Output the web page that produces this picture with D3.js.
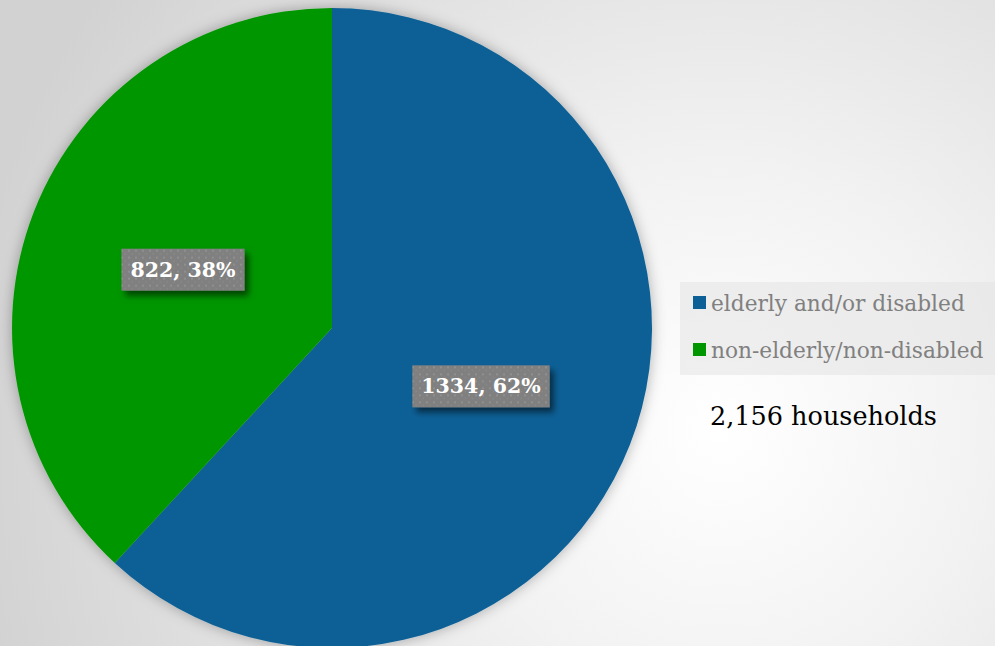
<!DOCTYPE html>
<html>
<head>
<meta charset="utf-8">
<script src="https://cdn.jsdelivr.net/npm/d3@7"></script>
<style>
  html, body { margin: 0; padding: 0; overflow: hidden; }
  svg { display: block; }
</style>
</head>
<body>
<svg id="chart" width="995" height="646"></svg>
<script>
// Households by category
const categories = ["elderly and/or disabled", "non-elderly/non-disabled"];
const values = [1334, 822];
const colors = ["#0c6096", "#009600"];
const totalLabel = "2,156 households";

const W = 995, H = 646;
const svg = d3.select("#chart");
const serif = "'Palatino Linotype', 'Book Antiqua', Palatino, 'URW Palladio L', 'P052', 'DejaVu Serif', serif";

const defs = svg.append("defs");

// soft grey backdrop, brightest to the right of the pie
const bg = defs.append("radialGradient").attr("id", "bg")
  .attr("gradientUnits", "userSpaceOnUse")
  .attr("cx", 720).attr("cy", 430).attr("r", 760);
bg.append("stop").attr("offset", "0").attr("stop-color", "#ffffff");
bg.append("stop").attr("offset", "0.35").attr("stop-color", "#f2f2f2");
bg.append("stop").attr("offset", "1").attr("stop-color", "#d2d2d2");

// faint halo around the pie
const pieShadow = defs.append("filter").attr("id", "pieShadow")
  .attr("x", "-20%").attr("y", "-20%").attr("width", "140%").attr("height", "140%");
pieShadow.append("feDropShadow").attr("dx", 0).attr("dy", 0)
  .attr("stdDeviation", 7).attr("flood-color", "#000").attr("flood-opacity", 0.3);

// shadow behind the value labels
const labelShadow = defs.append("filter").attr("id", "labelShadow")
  .attr("x", "-20%").attr("y", "-30%").attr("width", "150%").attr("height", "180%");
labelShadow.append("feDropShadow").attr("dx", 4).attr("dy", 5)
  .attr("stdDeviation", 3).attr("flood-color", "#000").attr("flood-opacity", 0.55);

// dotted texture for the label boxes
const pat = defs.append("pattern").attr("id", "dots")
  .attr("patternUnits", "userSpaceOnUse").attr("width", 7).attr("height", 7);
pat.append("rect").attr("width", 7).attr("height", 7).attr("fill", "#808080");
pat.append("rect").attr("x", 1).attr("y", 1).attr("width", 2).attr("height", 2).attr("fill", "#8f8f8f");
pat.append("rect").attr("x", 4.5).attr("y", 4.5).attr("width", 1.5).attr("height", 1.5).attr("fill", "#888888");

svg.append("rect").attr("width", W).attr("height", H).attr("fill", "url(#bg)");

// pie
const cx = 332, cy = 328, R = 320;
const total = d3.sum(values);
const pie = d3.pie().sort(null).value(d => d.value);
const arcs = pie(categories.map((c, i) => ({ name: c, value: values[i], color: colors[i] })));
const arc = d3.arc().innerRadius(0).outerRadius(R);
const labelArc = d3.arc().innerRadius(R * 0.5).outerRadius(R * 0.5);

const g = svg.append("g").attr("transform", `translate(${cx},${cy})`);
g.append("g").attr("filter", "url(#pieShadow)")
  .selectAll("path").data(arcs).join("path")
  .attr("d", arc).attr("fill", d => d.data.color);

// value labels
const fmtPct = d3.format(".0%");
const lbl = g.selectAll("g.lbl").data(arcs).join("g")
  .attr("class", "lbl")
  .attr("transform", d => `translate(${labelArc.centroid(d)})`);
lbl.each(function(d) {
  const sel = d3.select(this);
  const text = sel.append("text")
    .attr("text-anchor", "middle").attr("dy", "0.35em")
    .attr("font-family", serif).attr("font-weight", "bold")
    .attr("font-size", 20.5).attr("fill", "#ffffff")
    .text(`${d.data.value}, ${fmtPct(d.data.value / total)}`);
  const bb = text.node().getBBox();
  const padX = 9, h = 42;
  sel.insert("rect", "text")
    .attr("x", bb.x - padX).attr("y", -h / 2)
    .attr("width", bb.width + padX * 2).attr("height", h)
    .attr("fill", "url(#dots)").attr("filter", "url(#labelShadow)");
});

// legend
const legend = svg.append("g");
legend.append("rect").attr("x", 680).attr("y", 282).attr("width", 315).attr("height", 93)
  .attr("fill", "#e4e4e4").attr("opacity", 0.55);
const items = legend.selectAll("g.item").data(arcs).join("g")
  .attr("class", "item")
  .attr("transform", (d, i) => `translate(693, ${303 + i * 47})`);
items.append("rect").attr("x", 0).attr("y", -7).attr("width", 13).attr("height", 13)
  .attr("fill", d => d.data.color);
items.append("text").attr("x", 18).attr("dy", "0.35em")
  .attr("font-family", serif).attr("font-size", 21.7).attr("fill", "#808080")
  .text(d => d.data.name);

svg.append("text").attr("x", 710).attr("y", 425)
  .attr("font-family", serif).attr("font-size", 25.5).attr("fill", "#000")
  .text(totalLabel);
</script>
</body>
</html>
